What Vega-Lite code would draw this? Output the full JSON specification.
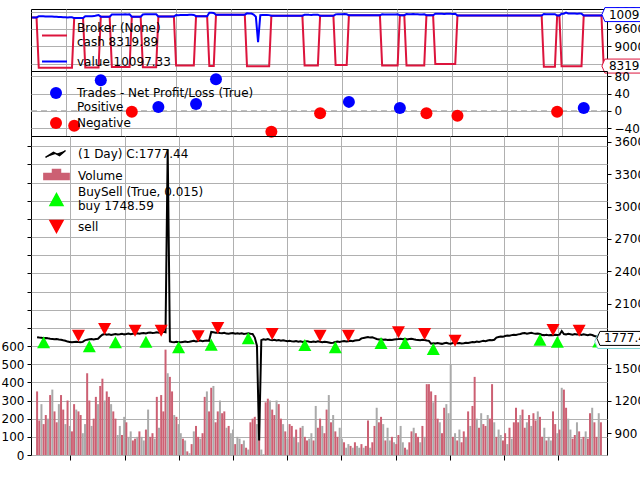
{
  "$schema": "https://vega.github.io/schema/vega-lite/v6.json",
  "padding": {"left": 0, "top": 5, "right": 0, "bottom": 0},
  "spacing": 0,
  "bounds": "flush",
  "config": {
    "font": "DejaVu Sans",
    "view": {"stroke": "black", "strokeWidth": 1},
    "axis": {"domain": false, "gridColor": "#b0b0b0", "gridOpacity": 1, "gridWidth": 1, "tickColor": "black", "tickSize": 4, "labelFontSize": 12, "labelColor": "black", "labelFont": "DejaVu Sans", "labelPadding": 3, "labelFlush": false, "labelOverlap": false, "labelSeparation": -200},
    "legend": {"labelFontSize": 12, "labelFont": "DejaVu Sans", "labelColor": "black", "labelLimit": 400, "padding": 0, "rowPadding": 3}
  },
  "datasets": {
    "bars": [
{"i":0,"c":1788,"v":350,"d":1,"cash":10000,"val":10000},
{"i":1,"c":1785,"v":190,"d":1,"cash":10000,"val":10000},
{"i":2,"c":1783,"v":280,"d":0,"cash":10000,"val":10000},
{"i":3,"c":1780,"v":170,"d":1,"cash":8258,"val":10038},
{"i":4,"c":1782,"v":220,"d":1,"cash":8258,"val":10040},
{"i":5,"c":1778,"v":200,"d":0,"cash":8258,"val":10036},
{"i":6,"c":1775,"v":330,"d":1,"cash":8258,"val":10033},
{"i":7,"c":1773,"v":360,"d":0,"cash":8258,"val":10031},
{"i":8,"c":1770,"v":240,"d":1,"cash":8258,"val":10028},
{"i":9,"c":1772,"v":180,"d":1,"cash":8258,"val":10030},
{"i":10,"c":1768,"v":280,"d":0,"cash":8258,"val":10026},
{"i":11,"c":1765,"v":330,"d":1,"cash":8258,"val":10023},
{"i":12,"c":1760,"v":250,"d":1,"cash":8258,"val":10018},
{"i":13,"c":1756,"v":170,"d":0,"cash":8258,"val":10014},
{"i":14,"c":1748,"v":300,"d":1,"cash":8258,"val":10006},
{"i":15,"c":1745,"v":160,"d":0,"cash":8258,"val":10003},
{"i":16,"c":1742,"v":130,"d":1,"cash":8258,"val":10000},
{"i":17,"c":1744,"v":280,"d":1,"cash":8258,"val":10002},
{"i":18,"c":1746,"v":250,"d":0,"cash":8258,"val":10004},
{"i":19,"c":1743,"v":240,"d":1,"cash":9976,"val":9976},
{"i":20,"c":1741,"v":220,"d":1,"cash":9976,"val":9976},
{"i":21,"c":1745,"v":120,"d":0,"cash":9976,"val":9976},
{"i":22,"c":1760,"v":170,"d":0,"cash":9976,"val":9976},
{"i":23,"c":1766,"v":450,"d":1,"cash":9976,"val":9976},
{"i":24,"c":1770,"v":300,"d":1,"cash":8271,"val":10041},
{"i":25,"c":1772,"v":160,"d":0,"cash":8271,"val":10043},
{"i":26,"c":1768,"v":200,"d":1,"cash":8271,"val":10039},
{"i":27,"c":1771,"v":320,"d":1,"cash":8271,"val":10042},
{"i":28,"c":1774,"v":280,"d":0,"cash":8271,"val":10045},
{"i":29,"c":1795,"v":380,"d":1,"cash":8271,"val":10066},
{"i":30,"c":1812,"v":420,"d":1,"cash":8271,"val":10083},
{"i":31,"c":1818,"v":300,"d":0,"cash":10026,"val":10026},
{"i":32,"c":1812,"v":350,"d":1,"cash":10026,"val":10026},
{"i":33,"c":1815,"v":320,"d":1,"cash":10026,"val":10026},
{"i":34,"c":1810,"v":280,"d":0,"cash":10026,"val":10026},
{"i":35,"c":1814,"v":240,"d":1,"cash":10026,"val":10026},
{"i":36,"c":1818,"v":200,"d":1,"cash":8284,"val":10102},
{"i":37,"c":1813,"v":110,"d":0,"cash":8284,"val":10097},
{"i":38,"c":1816,"v":160,"d":0,"cash":8284,"val":10100},
{"i":39,"c":1820,"v":110,"d":1,"cash":8284,"val":10104},
{"i":40,"c":1815,"v":210,"d":0,"cash":8284,"val":10099},
{"i":41,"c":1818,"v":180,"d":1,"cash":8284,"val":10102},
{"i":42,"c":1822,"v":100,"d":0,"cash":8284,"val":10106},
{"i":43,"c":1817,"v":130,"d":0,"cash":8284,"val":10101},
{"i":44,"c":1820,"v":80,"d":1,"cash":8284,"val":10104},
{"i":45,"c":1822,"v":90,"d":1,"cash":10025,"val":10025},
{"i":46,"c":1825,"v":100,"d":0,"cash":10025,"val":10025},
{"i":47,"c":1820,"v":130,"d":1,"cash":10025,"val":10025},
{"i":48,"c":1826,"v":100,"d":0,"cash":10025,"val":10025},
{"i":49,"c":1828,"v":80,"d":0,"cash":10025,"val":10025},
{"i":50,"c":1824,"v":140,"d":1,"cash":8278,"val":10102},
{"i":51,"c":1829,"v":250,"d":0,"cash":8278,"val":10107},
{"i":52,"c":1832,"v":100,"d":1,"cash":8278,"val":10110},
{"i":53,"c":1827,"v":120,"d":1,"cash":8278,"val":10105},
{"i":54,"c":1830,"v":90,"d":0,"cash":8278,"val":10108},
{"i":55,"c":1834,"v":320,"d":1,"cash":8278,"val":10112},
{"i":56,"c":1831,"v":150,"d":0,"cash":8278,"val":10109},
{"i":57,"c":1836,"v":330,"d":1,"cash":10031,"val":10031},
{"i":58,"c":1838,"v":240,"d":1,"cash":10031,"val":10031},
{"i":59,"c":1834,"v":580,"d":1,"cash":10031,"val":10031},
{"i":60,"c":3530,"v":450,"d":0,"cash":10031,"val":10031},
{"i":61,"c":1750,"v":430,"d":1,"cash":10031,"val":10031},
{"i":62,"c":1745,"v":350,"d":1,"cash":10031,"val":10031},
{"i":63,"c":1742,"v":220,"d":0,"cash":10031,"val":10031},
{"i":64,"c":1746,"v":210,"d":1,"cash":10031,"val":10031},
{"i":65,"c":1743,"v":170,"d":0,"cash":8336,"val":10079},
{"i":66,"c":1741,"v":120,"d":0,"cash":8336,"val":10077},
{"i":67,"c":1745,"v":90,"d":1,"cash":8336,"val":10081},
{"i":68,"c":1748,"v":80,"d":0,"cash":8336,"val":10084},
{"i":69,"c":1744,"v":20,"d":1,"cash":8336,"val":10080},
{"i":70,"c":1747,"v":10,"d":0,"cash":8336,"val":10083},
{"i":71,"c":1752,"v":60,"d":1,"cash":8336,"val":10088},
{"i":72,"c":1755,"v":130,"d":0,"cash":8336,"val":10091},
{"i":73,"c":1750,"v":160,"d":1,"cash":8336,"val":10086},
{"i":74,"c":1754,"v":100,"d":1,"cash":10042,"val":10042},
{"i":75,"c":1757,"v":90,"d":0,"cash":10042,"val":10042},
{"i":76,"c":1752,"v":120,"d":1,"cash":10042,"val":10042},
{"i":77,"c":1756,"v":320,"d":1,"cash":10042,"val":10042},
{"i":78,"c":1758,"v":350,"d":0,"cash":10042,"val":10042},
{"i":79,"c":1754,"v":240,"d":1,"cash":10042,"val":10042},
{"i":80,"c":1837,"v":370,"d":1,"cash":8323,"val":10160},
{"i":81,"c":1834,"v":380,"d":0,"cash":8323,"val":10157},
{"i":82,"c":1830,"v":180,"d":1,"cash":8323,"val":10153},
{"i":83,"c":1833,"v":240,"d":1,"cash":10094,"val":10094},
{"i":84,"c":1828,"v":300,"d":0,"cash":10094,"val":10094},
{"i":85,"c":1825,"v":230,"d":1,"cash":10094,"val":10094},
{"i":86,"c":1830,"v":240,"d":1,"cash":10094,"val":10094},
{"i":87,"c":1822,"v":150,"d":0,"cash":10094,"val":10094},
{"i":88,"c":1820,"v":160,"d":1,"cash":10094,"val":10094},
{"i":89,"c":1825,"v":120,"d":0,"cash":10094,"val":10094},
{"i":90,"c":1828,"v":140,"d":0,"cash":10094,"val":10094},
{"i":91,"c":1822,"v":60,"d":1,"cash":10094,"val":10094},
{"i":92,"c":1826,"v":100,"d":0,"cash":10094,"val":10094},
{"i":93,"c":1820,"v":90,"d":0,"cash":10094,"val":10094},
{"i":94,"c":1824,"v":60,"d":1,"cash":10094,"val":10094},
{"i":95,"c":1818,"v":80,"d":0,"cash":10094,"val":10094},
{"i":96,"c":1822,"v":40,"d":1,"cash":10094,"val":10094},
{"i":97,"c":1826,"v":30,"d":0,"cash":8315,"val":10141},
{"i":98,"c":1820,"v":180,"d":1,"cash":8315,"val":10135},
{"i":99,"c":1818,"v":200,"d":1,"cash":8315,"val":10133},
{"i":100,"c":1785,"v":210,"d":1,"cash":8315,"val":10100},
{"i":101,"c":1710,"v":170,"d":0,"cash":8315,"val":10025},
{"i":102,"c":830,"v":220,"d":1,"cash":8315,"val":9145},
{"i":103,"c":1762,"v":30,"d":0,"cash":8315,"val":10077},
{"i":104,"c":1770,"v":5,"d":0,"cash":8315,"val":10085},
{"i":105,"c":1766,"v":290,"d":1,"cash":8315,"val":10081},
{"i":106,"c":1772,"v":310,"d":1,"cash":8315,"val":10087},
{"i":107,"c":1764,"v":300,"d":0,"cash":8315,"val":10079},
{"i":108,"c":1760,"v":250,"d":1,"cash":10060,"val":10060},
{"i":109,"c":1765,"v":220,"d":1,"cash":10060,"val":10060},
{"i":110,"c":1758,"v":300,"d":0,"cash":10060,"val":10060},
{"i":111,"c":1762,"v":280,"d":1,"cash":10060,"val":10060},
{"i":112,"c":1756,"v":200,"d":1,"cash":10060,"val":10060},
{"i":113,"c":1760,"v":170,"d":0,"cash":10060,"val":10060},
{"i":114,"c":1755,"v":130,"d":1,"cash":10060,"val":10060},
{"i":115,"c":1752,"v":90,"d":0,"cash":10060,"val":10060},
{"i":116,"c":1756,"v":170,"d":1,"cash":10060,"val":10060},
{"i":117,"c":1750,"v":160,"d":1,"cash":10060,"val":10060},
{"i":118,"c":1748,"v":100,"d":0,"cash":10060,"val":10060},
{"i":119,"c":1753,"v":140,"d":1,"cash":10060,"val":10060},
{"i":120,"c":1747,"v":70,"d":0,"cash":10060,"val":10060},
{"i":121,"c":1750,"v":150,"d":1,"cash":10060,"val":10060},
{"i":122,"c":1745,"v":160,"d":0,"cash":10060,"val":10060},
{"i":123,"c":1749,"v":100,"d":1,"cash":8343,"val":10092},
{"i":124,"c":1752,"v":80,"d":1,"cash":8343,"val":10095},
{"i":125,"c":1746,"v":90,"d":0,"cash":8343,"val":10089},
{"i":126,"c":1744,"v":120,"d":0,"cash":8343,"val":10087},
{"i":127,"c":1748,"v":80,"d":1,"cash":8343,"val":10091},
{"i":128,"c":1745,"v":270,"d":0,"cash":8343,"val":10088},
{"i":129,"c":1750,"v":150,"d":1,"cash":8343,"val":10093},
{"i":130,"c":1746,"v":200,"d":1,"cash":10056,"val":10056},
{"i":131,"c":1742,"v":160,"d":0,"cash":10056,"val":10056},
{"i":132,"c":1747,"v":120,"d":1,"cash":10056,"val":10056},
{"i":133,"c":1744,"v":250,"d":1,"cash":10056,"val":10056},
{"i":134,"c":1740,"v":330,"d":0,"cash":10056,"val":10056},
{"i":135,"c":1735,"v":180,"d":1,"cash":10056,"val":10056},
{"i":136,"c":1738,"v":220,"d":0,"cash":10056,"val":10056},
{"i":137,"c":1744,"v":130,"d":1,"cash":8361,"val":10105},
{"i":138,"c":1748,"v":100,"d":1,"cash":8361,"val":10109},
{"i":139,"c":1745,"v":150,"d":0,"cash":8361,"val":10106},
{"i":140,"c":1750,"v":90,"d":0,"cash":8361,"val":10111},
{"i":141,"c":1753,"v":70,"d":1,"cash":8361,"val":10114},
{"i":142,"c":1748,"v":40,"d":0,"cash":8361,"val":10109},
{"i":143,"c":1752,"v":60,"d":0,"cash":10071,"val":10071},
{"i":144,"c":1756,"v":50,"d":1,"cash":10071,"val":10071},
{"i":145,"c":1752,"v":40,"d":0,"cash":10071,"val":10071},
{"i":146,"c":1758,"v":70,"d":1,"cash":10071,"val":10071},
{"i":147,"c":1760,"v":50,"d":0,"cash":10071,"val":10071},
{"i":148,"c":1762,"v":40,"d":0,"cash":10071,"val":10071},
{"i":149,"c":1778,"v":60,"d":1,"cash":10071,"val":10071},
{"i":150,"c":1782,"v":40,"d":0,"cash":10071,"val":10071},
{"i":151,"c":1786,"v":50,"d":1,"cash":10071,"val":10071},
{"i":152,"c":1790,"v":190,"d":1,"cash":10071,"val":10071},
{"i":153,"c":1785,"v":40,"d":0,"cash":10071,"val":10071},
{"i":154,"c":1788,"v":70,"d":1,"cash":10071,"val":10071},
{"i":155,"c":1780,"v":160,"d":1,"cash":10071,"val":10071},
{"i":156,"c":1772,"v":260,"d":0,"cash":10071,"val":10071},
{"i":157,"c":1768,"v":180,"d":1,"cash":10071,"val":10071},
{"i":158,"c":1770,"v":210,"d":1,"cash":8336,"val":10106},
{"i":159,"c":1765,"v":170,"d":0,"cash":8336,"val":10101},
{"i":160,"c":1768,"v":80,"d":1,"cash":8336,"val":10104},
{"i":161,"c":1763,"v":150,"d":0,"cash":8336,"val":10099},
{"i":162,"c":1766,"v":80,"d":0,"cash":8336,"val":10102},
{"i":163,"c":1762,"v":100,"d":1,"cash":8336,"val":10098},
{"i":164,"c":1768,"v":70,"d":0,"cash":8336,"val":10104},
{"i":165,"c":1770,"v":60,"d":1,"cash":8336,"val":10106},
{"i":166,"c":1772,"v":110,"d":1,"cash":10076,"val":10076},
{"i":167,"c":1775,"v":160,"d":0,"cash":10076,"val":10076},
{"i":168,"c":1770,"v":70,"d":0,"cash":10076,"val":10076},
{"i":169,"c":1773,"v":40,"d":1,"cash":8341,"val":10114},
{"i":170,"c":1768,"v":30,"d":0,"cash":8341,"val":10109},
{"i":171,"c":1772,"v":70,"d":1,"cash":8341,"val":10113},
{"i":172,"c":1775,"v":130,"d":1,"cash":8341,"val":10116},
{"i":173,"c":1770,"v":150,"d":0,"cash":8341,"val":10111},
{"i":174,"c":1766,"v":120,"d":1,"cash":8341,"val":10107},
{"i":175,"c":1763,"v":100,"d":1,"cash":8341,"val":10104},
{"i":176,"c":1760,"v":70,"d":0,"cash":8341,"val":10101},
{"i":177,"c":1765,"v":160,"d":1,"cash":8341,"val":10106},
{"i":178,"c":1762,"v":100,"d":0,"cash":10073,"val":10073},
{"i":179,"c":1758,"v":390,"d":1,"cash":10073,"val":10073},
{"i":180,"c":1755,"v":390,"d":1,"cash":10073,"val":10073},
{"i":181,"c":1728,"v":350,"d":1,"cash":10073,"val":10073},
{"i":182,"c":1732,"v":290,"d":0,"cash":8393,"val":10125},
{"i":183,"c":1730,"v":330,"d":1,"cash":8393,"val":10123},
{"i":184,"c":1735,"v":200,"d":1,"cash":8393,"val":10128},
{"i":185,"c":1731,"v":180,"d":0,"cash":8393,"val":10124},
{"i":186,"c":1727,"v":120,"d":1,"cash":8393,"val":10120},
{"i":187,"c":1733,"v":260,"d":1,"cash":8393,"val":10126},
{"i":188,"c":1736,"v":280,"d":0,"cash":8393,"val":10129},
{"i":189,"c":1730,"v":230,"d":0,"cash":8393,"val":10123},
{"i":190,"c":1728,"v":500,"d":0,"cash":8393,"val":10121},
{"i":191,"c":1734,"v":100,"d":1,"cash":8393,"val":10127},
{"i":192,"c":1737,"v":120,"d":0,"cash":10065,"val":10065},
{"i":193,"c":1732,"v":80,"d":1,"cash":10065,"val":10065},
{"i":194,"c":1735,"v":140,"d":0,"cash":10065,"val":10065},
{"i":195,"c":1730,"v":70,"d":1,"cash":10065,"val":10065},
{"i":196,"c":1733,"v":130,"d":1,"cash":10065,"val":10065},
{"i":197,"c":1738,"v":100,"d":0,"cash":10065,"val":10065},
{"i":198,"c":1736,"v":240,"d":1,"cash":10065,"val":10065},
{"i":199,"c":1740,"v":160,"d":0,"cash":10065,"val":10065},
{"i":200,"c":1744,"v":270,"d":1,"cash":10065,"val":10065},
{"i":201,"c":1742,"v":430,"d":1,"cash":10065,"val":10065},
{"i":202,"c":1748,"v":200,"d":0,"cash":10065,"val":10065},
{"i":203,"c":1745,"v":150,"d":1,"cash":10065,"val":10065},
{"i":204,"c":1750,"v":230,"d":0,"cash":10065,"val":10065},
{"i":205,"c":1755,"v":170,"d":1,"cash":10065,"val":10065},
{"i":206,"c":1752,"v":160,"d":1,"cash":10065,"val":10065},
{"i":207,"c":1758,"v":220,"d":0,"cash":10065,"val":10065},
{"i":208,"c":1762,"v":200,"d":1,"cash":10065,"val":10065},
{"i":209,"c":1760,"v":390,"d":1,"cash":10065,"val":10065},
{"i":210,"c":1765,"v":180,"d":0,"cash":10065,"val":10065},
{"i":211,"c":1785,"v":100,"d":1,"cash":10065,"val":10065},
{"i":212,"c":1790,"v":140,"d":0,"cash":10065,"val":10065},
{"i":213,"c":1795,"v":110,"d":0,"cash":10065,"val":10065},
{"i":214,"c":1792,"v":80,"d":1,"cash":10065,"val":10065},
{"i":215,"c":1800,"v":120,"d":1,"cash":10065,"val":10065},
{"i":216,"c":1805,"v":60,"d":0,"cash":10065,"val":10065},
{"i":217,"c":1802,"v":150,"d":1,"cash":10065,"val":10065},
{"i":218,"c":1808,"v":90,"d":0,"cash":10065,"val":10065},
{"i":219,"c":1812,"v":180,"d":1,"cash":10065,"val":10065},
{"i":220,"c":1810,"v":260,"d":1,"cash":10065,"val":10065},
{"i":221,"c":1815,"v":180,"d":1,"cash":10065,"val":10065},
{"i":222,"c":1818,"v":220,"d":0,"cash":10065,"val":10065},
{"i":223,"c":1825,"v":250,"d":1,"cash":10065,"val":10065},
{"i":224,"c":1828,"v":150,"d":1,"cash":10065,"val":10065},
{"i":225,"c":1822,"v":180,"d":0,"cash":10065,"val":10065},
{"i":226,"c":1826,"v":220,"d":1,"cash":10065,"val":10065},
{"i":227,"c":1830,"v":160,"d":0,"cash":10065,"val":10065},
{"i":228,"c":1824,"v":230,"d":1,"cash":10065,"val":10065},
{"i":229,"c":1820,"v":190,"d":1,"cash":10065,"val":10065},
{"i":230,"c":1823,"v":240,"d":0,"cash":10065,"val":10065},
{"i":231,"c":1818,"v":210,"d":1,"cash":8299,"val":10117},
{"i":232,"c":1810,"v":100,"d":1,"cash":8299,"val":10109},
{"i":233,"c":1808,"v":150,"d":0,"cash":8299,"val":10107},
{"i":234,"c":1812,"v":80,"d":1,"cash":8299,"val":10111},
{"i":235,"c":1806,"v":100,"d":0,"cash":8299,"val":10105},
{"i":236,"c":1810,"v":80,"d":0,"cash":8299,"val":10109},
{"i":237,"c":1807,"v":240,"d":1,"cash":10064,"val":10064},
{"i":238,"c":1811,"v":170,"d":1,"cash":10064,"val":10064},
{"i":239,"c":1809,"v":120,"d":0,"cash":8317,"val":10126},
{"i":240,"c":1812,"v":140,"d":1,"cash":8317,"val":10129},
{"i":241,"c":1846,"v":370,"d":0,"cash":8317,"val":10163},
{"i":242,"c":1818,"v":360,"d":1,"cash":8317,"val":10135},
{"i":243,"c":1815,"v":260,"d":1,"cash":8317,"val":10132},
{"i":244,"c":1820,"v":200,"d":0,"cash":8317,"val":10137},
{"i":245,"c":1816,"v":140,"d":0,"cash":8317,"val":10133},
{"i":246,"c":1812,"v":90,"d":1,"cash":8317,"val":10129},
{"i":247,"c":1818,"v":110,"d":1,"cash":8317,"val":10135},
{"i":248,"c":1814,"v":180,"d":0,"cash":8317,"val":10131},
{"i":249,"c":1817,"v":130,"d":1,"cash":10068.48,"val":10068.48},
{"i":250,"c":1810,"v":90,"d":0,"cash":10068.48,"val":10068.48},
{"i":251,"c":1815,"v":100,"d":1,"cash":10068.48,"val":10068.48},
{"i":252,"c":1812,"v":130,"d":0,"cash":10068.48,"val":10068.48},
{"i":253,"c":1808,"v":90,"d":1,"cash":10068.48,"val":10068.48},
{"i":254,"c":1813,"v":230,"d":1,"cash":10068.48,"val":10068.48},
{"i":255,"c":1809,"v":260,"d":0,"cash":10068.48,"val":10068.48},
{"i":256,"c":1800,"v":180,"d":1,"cash":10068.48,"val":10068.48},
{"i":257,"c":1795,"v":100,"d":1,"cash":10068.48,"val":10068.48},
{"i":258,"c":1790,"v":230,"d":0,"cash":8319.89,"val":10109.89},
{"i":259,"c":1777.44,"v":180,"d":1,"cash":8319.89,"val":10097.33}
    ],
    "bs": [
{"i":3,"p":1742,"k":"buy"},{"i":24,"p":1705,"k":"buy"},{"i":36,"p":1742,"k":"buy"},{"i":50,"p":1747,"k":"buy"},{"i":65,"p":1695,"k":"buy"},{"i":80,"p":1719,"k":"buy"},{"i":97,"p":1779,"k":"buy"},{"i":123,"p":1717,"k":"buy"},{"i":137,"p":1695,"k":"buy"},{"i":158,"p":1735,"k":"buy"},{"i":169,"p":1735,"k":"buy"},{"i":182,"p":1680,"k":"buy"},{"i":231,"p":1766,"k":"buy"},{"i":239,"p":1747,"k":"buy"},{"i":258,"p":1748.59,"k":"buy"},
{"i":19,"p":1803,"k":"sell"},{"i":31,"p":1865,"k":"sell"},{"i":45,"p":1849,"k":"sell"},{"i":57,"p":1849,"k":"sell"},{"i":74,"p":1797,"k":"sell"},{"i":83,"p":1874,"k":"sell"},{"i":108,"p":1818,"k":"sell"},{"i":130,"p":1803,"k":"sell"},{"i":143,"p":1803,"k":"sell"},{"i":166,"p":1834,"k":"sell"},{"i":178,"p":1818,"k":"sell"},{"i":192,"p":1756,"k":"sell"},{"i":237,"p":1856,"k":"sell"},{"i":249,"p":1849,"k":"sell"}
    ],
    "trades": [
{"i":19,"pnl":-34,"k":"Negative"},{"i":31,"pnl":71,"k":"Positive"},{"i":45,"pnl":-2,"k":"Negative"},{"i":57,"pnl":9,"k":"Positive"},{"i":74,"pnl":16,"k":"Positive"},{"i":83,"pnl":73,"k":"Positive"},{"i":108,"pnl":-48,"k":"Negative"},{"i":130,"pnl":-5,"k":"Negative"},{"i":143,"pnl":21,"k":"Positive"},{"i":166,"pnl":7,"k":"Positive"},{"i":178,"pnl":-5,"k":"Negative"},{"i":192,"pnl":-11,"k":"Negative"},{"i":237,"pnl":-2,"k":"Negative"},{"i":249,"pnl":7,"k":"Positive"}
    ]
  },
  "resolve": {"scale": {"x": "independent", "y": "independent", "color": "independent", "shape": "independent"}},
  "vconcat": [
    {
      "width": 576, "height": 62,
      "data": {"name": "bars"},
      "layer": [
        {
          "mark": {"type": "line", "strokeWidth": 2},
          "encoding": {
            "x": {"field": "i", "type": "quantitative", "title": null, "scale": {"domain": [-0.5, 259.5], "nice": false, "zero": false}, "axis": {"values": [15.3, 40.2, 65.1, 90.0, 114.9, 139.8, 164.7, 189.6, 214.5, 239.4], "grid": true, "labels": false, "ticks": false, "tickSize": 0, "labelPadding": 0, "minExtent": 0, "maxExtent": 0, "title": null}},
            "y": {"field": "cash", "type": "quantitative", "title": null, "scale": {"domain": [8150, 10290], "nice": false, "zero": false}, "axis": {"orient": "right", "values": [8400, 9000, 9600, 10200], "format": "d", "grid": true, "labelOverlap": false, "title": null}},
            "color": {"datum": "cash", "scale": {"domain": ["cash", "value"], "range": ["#dc143c", "#0000ff"]}, "legend": {"orient": "top-left", "offset": 13, "symbolOffset": -3, "rowPadding": 0, "title": null, "symbolSize": 625, "symbolStrokeWidth": 2, "labelOffset": 9, "labelExpr": "datum.value == 'cash' ? ['Broker (None)', 'cash 8319.89'] : 'value 10097.33'", "encode": {"labels": {"update": {"dy": {"signal": "datum.value == 'cash' ? -7.5 : 0"}}}}}}
          }
        },
        {
          "mark": {"type": "line", "strokeWidth": 2},
          "encoding": {
            "x": {"field": "i", "type": "quantitative", "title": null, "scale": {"domain": [-0.5, 259.5], "nice": false, "zero": false}},
            "y": {"field": "val", "type": "quantitative", "title": null, "scale": {"domain": [8150, 10290], "nice": false, "zero": false}, "axis": {"orient": "right", "values": [8400, 9000, 9600, 10200], "format": "d", "grid": true, "labelOverlap": false, "title": null}},
            "color": {"datum": "value"}
          }
        },
        {
          "transform": [{"filter": "datum.i == 259"}],
          "mark": {"type": "point", "shape": "M-0.04,0L-0.01,-0.07L0.95,-0.07L0.95,0.07L-0.01,0.07Z", "size": 40000, "filled": true, "fill": "white", "stroke": "#dc143c", "strokeWidth": 1, "opacity": 1},
          "encoding": {
            "x": {"field": "i", "type": "quantitative", "title": null, "scale": {"domain": [-0.5, 259.5], "nice": false, "zero": false}},
            "y": {"field": "cash", "type": "quantitative", "title": null, "scale": {"domain": [8150, 10290], "nice": false, "zero": false}, "axis": {"orient": "right", "values": [8400, 9000, 9600, 10200], "format": "d", "grid": true, "labelOverlap": false, "title": null}}
          }
        },
        {
          "transform": [{"filter": "datum.i == 259"}],
          "mark": {"type": "text", "align": "left", "dx": 3, "fontSize": 12, "color": "black"},
          "encoding": {
            "x": {"field": "i", "type": "quantitative", "title": null, "scale": {"domain": [-0.5, 259.5], "nice": false, "zero": false}},
            "y": {"field": "cash", "type": "quantitative", "title": null, "scale": {"domain": [8150, 10290], "nice": false, "zero": false}, "axis": {"orient": "right", "values": [8400, 9000, 9600, 10200], "format": "d", "grid": true, "labelOverlap": false, "title": null}},
            "text": {"field": "cash", "type": "quantitative", "format": ".2f"}
          }
        },
        {
          "transform": [{"filter": "datum.i == 259"}],
          "mark": {"type": "point", "shape": "M-0.04,0L-0.01,-0.07L0.95,-0.07L0.95,0.07L-0.01,0.07Z", "size": 40000, "filled": true, "fill": "white", "stroke": "#0000ff", "strokeWidth": 1, "opacity": 1},
          "encoding": {
            "x": {"field": "i", "type": "quantitative", "title": null, "scale": {"domain": [-0.5, 259.5], "nice": false, "zero": false}},
            "y": {"field": "val", "type": "quantitative", "title": null, "scale": {"domain": [8150, 10290], "nice": false, "zero": false}, "axis": {"orient": "right", "values": [8400, 9000, 9600, 10200], "format": "d", "grid": true, "labelOverlap": false, "title": null}}
          }
        },
        {
          "transform": [{"filter": "datum.i == 259"}],
          "mark": {"type": "text", "align": "left", "dx": 3, "fontSize": 12, "color": "black"},
          "encoding": {
            "x": {"field": "i", "type": "quantitative", "title": null, "scale": {"domain": [-0.5, 259.5], "nice": false, "zero": false}},
            "y": {"field": "val", "type": "quantitative", "title": null, "scale": {"domain": [8150, 10290], "nice": false, "zero": false}, "axis": {"orient": "right", "values": [8400, 9000, 9600, 10200], "format": "d", "grid": true, "labelOverlap": false, "title": null}},
            "text": {"field": "val", "type": "quantitative", "format": ".2f"}
          }
        }
      ]
    },
    {
      "width": 576, "height": 65,
      "layer": [
        {
          "data": {"values": [{"pnl": 0}]},
          "mark": {"type": "rule", "strokeDash": [6, 4], "color": "#aaaaaa", "strokeWidth": 1.5},
          "encoding": {
            "y": {"field": "pnl", "type": "quantitative", "title": null, "scale": {"domain": [-57.8, 92.3], "nice": false, "zero": false}, "axis": {"orient": "right", "values": [-40, 0, 40, 80], "grid": true, "labelOverlap": false, "title": null}}
          }
        },
        {
          "data": {"name": "trades"},
          "transform": [{"filter": "datum.k == 'Positive'"}],
          "mark": {"type": "point", "shape": "circle", "filled": true, "opacity": 1, "size": 144},
          "encoding": {
            "x": {"field": "i", "type": "quantitative", "title": null, "scale": {"domain": [-0.5, 259.5], "nice": false, "zero": false}, "axis": {"values": [15.3, 40.2, 65.1, 90.0, 114.9, 139.8, 164.7, 189.6, 214.5, 239.4], "grid": true, "labels": false, "ticks": false, "tickSize": 0, "labelPadding": 0, "minExtent": 0, "maxExtent": 0, "title": null}},
            "y": {"field": "pnl", "type": "quantitative", "title": null, "scale": {"domain": [-57.8, 92.3], "nice": false, "zero": false}, "axis": {"orient": "right", "values": [-40, 0, 40, 80], "grid": true, "labelOverlap": false, "title": null}},
            "color": {"datum": "Positive", "scale": {"domain": ["Positive", "Negative"], "range": ["#0000ff", "#ff0000"]}, "legend": {"orient": "top-left", "offset": 15, "symbolOffset": 3, "title": null, "symbolSize": 144, "labelOffset": 14, "labelExpr": "datum.value == 'Positive' ? ['Trades - Net Profit/Loss (True)', 'Positive'] : 'Negative'", "encode": {"labels": {"update": {"dy": {"signal": "datum.value == 'Positive' ? -7.5 : 0"}}}}}}
          }
        },
        {
          "data": {"name": "trades"},
          "transform": [{"filter": "datum.k == 'Negative'"}],
          "mark": {"type": "point", "shape": "circle", "filled": true, "opacity": 1, "size": 144},
          "encoding": {
            "x": {"field": "i", "type": "quantitative", "title": null, "scale": {"domain": [-0.5, 259.5], "nice": false, "zero": false}},
            "y": {"field": "pnl", "type": "quantitative", "title": null, "scale": {"domain": [-57.8, 92.3], "nice": false, "zero": false}, "axis": {"orient": "right", "values": [-40, 0, 40, 80], "grid": true, "labelOverlap": false, "title": null}},
            "color": {"datum": "Negative", "scale": {"domain": ["Positive", "Negative"], "range": ["#0000ff", "#ff0000"]}, "legend": {"orient": "top-left", "offset": 15, "symbolOffset": 3, "title": null, "symbolSize": 144, "labelOffset": 14, "labelExpr": "datum.value == 'Positive' ? ['Trades - Net Profit/Loss (True)', 'Positive'] : 'Negative'", "encode": {"labels": {"update": {"dy": {"signal": "datum.value == 'Positive' ? -7.5 : 0"}}}}}}
          }
        }
      ]
    },
    {
      "width": 576, "height": 319,
      "layer": [
        {
          "data": {"name": "bars"},
          "mark": {"type": "bar", "width": 2},
          "encoding": {
            "x": {"field": "i", "type": "quantitative", "title": null, "scale": {"domain": [-0.5, 259.5], "nice": false, "zero": false}, "axis": {"values": [15.3, 40.2, 65.1, 90.0, 114.9, 139.8, 164.7, 189.6, 214.5, 239.4], "grid": true, "labels": false, "ticks": true, "tickSize": 5, "title": null}},
            "y": {"field": "v", "type": "quantitative", "title": null, "scale": {"domain": [0, 1756], "nice": false}, "axis": {"orient": "left", "values": [0, 100, 200, 300, 400, 500, 600, 700, 800, 900, 1000, 1100, 1200, 1300, 1400, 1500, 1600, 1700], "grid": true, "labelPadding": 3, "labelOverlap": false, "labelExpr": "datum.value <= 600 ? datum.label : ''", "title": null}},
            "color": {"condition": {"test": "datum.d == 1", "value": "#cc6073"}, "value": "#aaaaaa"}
          }
        },
        {
          "layer": [
            {
              "data": {"name": "bars"},
              "mark": {"type": "line", "strokeWidth": 2},
              "encoding": {
                "x": {"field": "i", "type": "quantitative", "title": null, "scale": {"domain": [-0.5, 259.5], "nice": false, "zero": false}},
                "y": {"field": "c", "type": "quantitative", "title": null, "scale": {"domain": [696, 3655], "nice": false, "zero": false}, "axis": {"orient": "right", "values": [900, 1200, 1500, 1800, 2100, 2400, 2700, 3000, 3300, 3600], "format": "d", "grid": false, "labelOverlap": false, "title": null}},
                "color": {"datum": "close", "scale": {"domain": ["close", "vol", "buy", "sell"], "range": ["#000000", "#cc6073", "#00ff00", "#ff0000"]},
                  "legend": {"orient": "top-left", "offset": 6, "symbolOffset": 8, "title": null, "symbolSize": 441, "labelOffset": 10,
                    "labelExpr": "datum.value == 'close' ? '(1 Day) C:1777.44' : datum.value == 'vol' ? 'Volume' : datum.value == 'buy' ? ['BuySell (True, 0.015)', 'buy 1748.59'] : 'sell'",
                    "encode": {
                      "labels": {"update": {"dy": {"signal": "datum.value == 'buy' ? -7.5 : 0"}}},
                      "symbols": {"update": {
                      "shape": {"signal": "datum.value == 'close' ? 'M-1.05,0.38L-0.29,-0.1L0.29,0.19L0.86,-0.29' : datum.value == 'vol' ? 'M-1.2,-0.19L-0.38,-0.19L-0.38,-0.57L0.38,-0.57L0.38,-0.19L1.2,-0.19L1.2,0.38L-1.2,0.38Z' : datum.value == 'buy' ? 'M0,-0.57L0.62,0.57L-0.62,0.57Z' : 'M0,0.57L0.62,-0.57L-0.62,-0.57Z'"},
                      "fill": {"signal": "datum.value == 'close' ? 'transparent' : datum.value == 'vol' ? '#e2b4bc' : datum.value == 'buy' ? '#00ff00' : '#ff0000'"},
                      "stroke": {"signal": "datum.value == 'close' ? '#000000' : datum.value == 'vol' ? '#b0707c' : 'transparent'"},
                      "strokeWidth": {"value": 1.5},
                      "opacity": {"value": 1}
                    }}}}}
              }
            },
            {
              "data": {"name": "bs"},
              "transform": [{"filter": "datum.k == 'buy'"}],
              "mark": {"type": "point", "shape": "M0,-0.57L0.62,0.57L-0.62,0.57Z", "filled": true, "opacity": 1, "size": 441},
              "encoding": {
                "x": {"field": "i", "type": "quantitative", "title": null, "scale": {"domain": [-0.5, 259.5], "nice": false, "zero": false}},
                "y": {"field": "p", "type": "quantitative", "title": null, "scale": {"domain": [696, 3655], "nice": false, "zero": false}, "axis": {"orient": "right", "values": [900, 1200, 1500, 1800, 2100, 2400, 2700, 3000, 3300, 3600], "format": "d", "grid": false, "labelOverlap": false, "title": null}},
                "color": {"datum": "buy", "scale": {"domain": ["close", "vol", "buy", "sell"], "range": ["#000000", "#cc6073", "#00ff00", "#ff0000"]},
                  "legend": {"orient": "top-left", "offset": 6, "symbolOffset": 8, "title": null, "symbolSize": 441, "labelOffset": 10,
                    "labelExpr": "datum.value == 'close' ? '(1 Day) C:1777.44' : datum.value == 'vol' ? 'Volume' : datum.value == 'buy' ? ['BuySell (True, 0.015)', 'buy 1748.59'] : 'sell'",
                    "encode": {
                      "labels": {"update": {"dy": {"signal": "datum.value == 'buy' ? -7.5 : 0"}}},
                      "symbols": {"update": {
                      "shape": {"signal": "datum.value == 'close' ? 'M-1.05,0.38L-0.29,-0.1L0.29,0.19L0.86,-0.29' : datum.value == 'vol' ? 'M-1.2,-0.19L-0.38,-0.19L-0.38,-0.57L0.38,-0.57L0.38,-0.19L1.2,-0.19L1.2,0.38L-1.2,0.38Z' : datum.value == 'buy' ? 'M0,-0.57L0.62,0.57L-0.62,0.57Z' : 'M0,0.57L0.62,-0.57L-0.62,-0.57Z'"},
                      "fill": {"signal": "datum.value == 'close' ? 'transparent' : datum.value == 'vol' ? '#e2b4bc' : datum.value == 'buy' ? '#00ff00' : '#ff0000'"},
                      "stroke": {"signal": "datum.value == 'close' ? '#000000' : datum.value == 'vol' ? '#b0707c' : 'transparent'"},
                      "strokeWidth": {"value": 1.5},
                      "opacity": {"value": 1}
                    }}}}}
              }
            },
            {
              "data": {"name": "bs"},
              "transform": [{"filter": "datum.k == 'sell'"}],
              "mark": {"type": "point", "shape": "M0,0.57L0.62,-0.57L-0.62,-0.57Z", "filled": true, "opacity": 1, "size": 441},
              "encoding": {
                "x": {"field": "i", "type": "quantitative", "title": null, "scale": {"domain": [-0.5, 259.5], "nice": false, "zero": false}},
                "y": {"field": "p", "type": "quantitative", "title": null, "scale": {"domain": [696, 3655], "nice": false, "zero": false}, "axis": {"orient": "right", "values": [900, 1200, 1500, 1800, 2100, 2400, 2700, 3000, 3300, 3600], "format": "d", "grid": false, "labelOverlap": false, "title": null}},
                "color": {"datum": "sell", "scale": {"domain": ["close", "vol", "buy", "sell"], "range": ["#000000", "#cc6073", "#00ff00", "#ff0000"]},
                  "legend": {"orient": "top-left", "offset": 6, "symbolOffset": 8, "title": null, "symbolSize": 441, "labelOffset": 10,
                    "labelExpr": "datum.value == 'close' ? '(1 Day) C:1777.44' : datum.value == 'vol' ? 'Volume' : datum.value == 'buy' ? ['BuySell (True, 0.015)', 'buy 1748.59'] : 'sell'",
                    "encode": {
                      "labels": {"update": {"dy": {"signal": "datum.value == 'buy' ? -7.5 : 0"}}},
                      "symbols": {"update": {
                      "shape": {"signal": "datum.value == 'close' ? 'M-1.05,0.38L-0.29,-0.1L0.29,0.19L0.86,-0.29' : datum.value == 'vol' ? 'M-1.2,-0.19L-0.38,-0.19L-0.38,-0.57L0.38,-0.57L0.38,-0.19L1.2,-0.19L1.2,0.38L-1.2,0.38Z' : datum.value == 'buy' ? 'M0,-0.57L0.62,0.57L-0.62,0.57Z' : 'M0,0.57L0.62,-0.57L-0.62,-0.57Z'"},
                      "fill": {"signal": "datum.value == 'close' ? 'transparent' : datum.value == 'vol' ? '#e2b4bc' : datum.value == 'buy' ? '#00ff00' : '#ff0000'"},
                      "stroke": {"signal": "datum.value == 'close' ? '#000000' : datum.value == 'vol' ? '#b0707c' : 'transparent'"},
                      "strokeWidth": {"value": 1.5},
                      "opacity": {"value": 1}
                    }}}}}
              }
            },
            {
              "data": {"name": "bs"},
              "transform": [{"filter": "datum.i == 258 && datum.k == 'buy'"}],
              "mark": {"type": "point", "shape": "M-0.04,0L-0.01,-0.07L0.95,-0.07L0.95,0.07L-0.01,0.07Z", "size": 40000, "filled": true, "fill": "white", "stroke": "#7fd4d4", "strokeWidth": 1, "opacity": 1},
              "encoding": {
                "x": {"field": "i", "type": "quantitative", "title": null, "scale": {"domain": [-0.5, 259.5], "nice": false, "zero": false}},
                "y": {"field": "p", "type": "quantitative", "title": null, "scale": {"domain": [696, 3655], "nice": false, "zero": false}, "axis": {"orient": "right", "values": [900, 1200, 1500, 1800, 2100, 2400, 2700, 3000, 3300, 3600], "format": "d", "grid": false, "labelOverlap": false, "title": null}}
              }
            },
            {
              "data": {"name": "bs"},
              "transform": [{"filter": "datum.i == 258 && datum.k == 'buy'"}],
              "mark": {"type": "text", "align": "left", "dx": 6, "fontSize": 12, "color": "#c0c0c0"},
              "encoding": {
                "x": {"field": "i", "type": "quantitative", "title": null, "scale": {"domain": [-0.5, 259.5], "nice": false, "zero": false}},
                "y": {"field": "p", "type": "quantitative", "title": null, "scale": {"domain": [696, 3655], "nice": false, "zero": false}, "axis": {"orient": "right", "values": [900, 1200, 1500, 1800, 2100, 2400, 2700, 3000, 3300, 3600], "format": "d", "grid": false, "labelOverlap": false, "title": null}},
                "text": {"field": "p", "type": "quantitative", "format": ".2f"}
              }
            },
            {
              "data": {"name": "bars"},
              "transform": [{"filter": "datum.i == 259"}],
              "mark": {"type": "point", "shape": "M-0.04,0L-0.01,-0.07L0.95,-0.07L0.95,0.07L-0.01,0.07Z", "size": 40000, "filled": true, "fill": "white", "stroke": "#000000", "strokeWidth": 1, "opacity": 1},
              "encoding": {
                "x": {"field": "i", "type": "quantitative", "title": null, "scale": {"domain": [-0.5, 259.5], "nice": false, "zero": false}},
                "y": {"field": "c", "type": "quantitative", "title": null, "scale": {"domain": [696, 3655], "nice": false, "zero": false}, "axis": {"orient": "right", "values": [900, 1200, 1500, 1800, 2100, 2400, 2700, 3000, 3300, 3600], "format": "d", "grid": false, "labelOverlap": false, "title": null}}
              }
            },
            {
              "data": {"name": "bars"},
              "transform": [{"filter": "datum.i == 259"}],
              "mark": {"type": "text", "align": "left", "dx": 3, "fontSize": 12, "color": "black"},
              "encoding": {
                "x": {"field": "i", "type": "quantitative", "title": null, "scale": {"domain": [-0.5, 259.5], "nice": false, "zero": false}},
                "y": {"field": "c", "type": "quantitative", "title": null, "scale": {"domain": [696, 3655], "nice": false, "zero": false}, "axis": {"orient": "right", "values": [900, 1200, 1500, 1800, 2100, 2400, 2700, 3000, 3300, 3600], "format": "d", "grid": false, "labelOverlap": false, "title": null}},
                "text": {"field": "c", "type": "quantitative", "format": ".2f"}
              }
            }
          ]
        }
      ],
      "resolve": {"scale": {"y": "independent"}}
    }
  ]
}
